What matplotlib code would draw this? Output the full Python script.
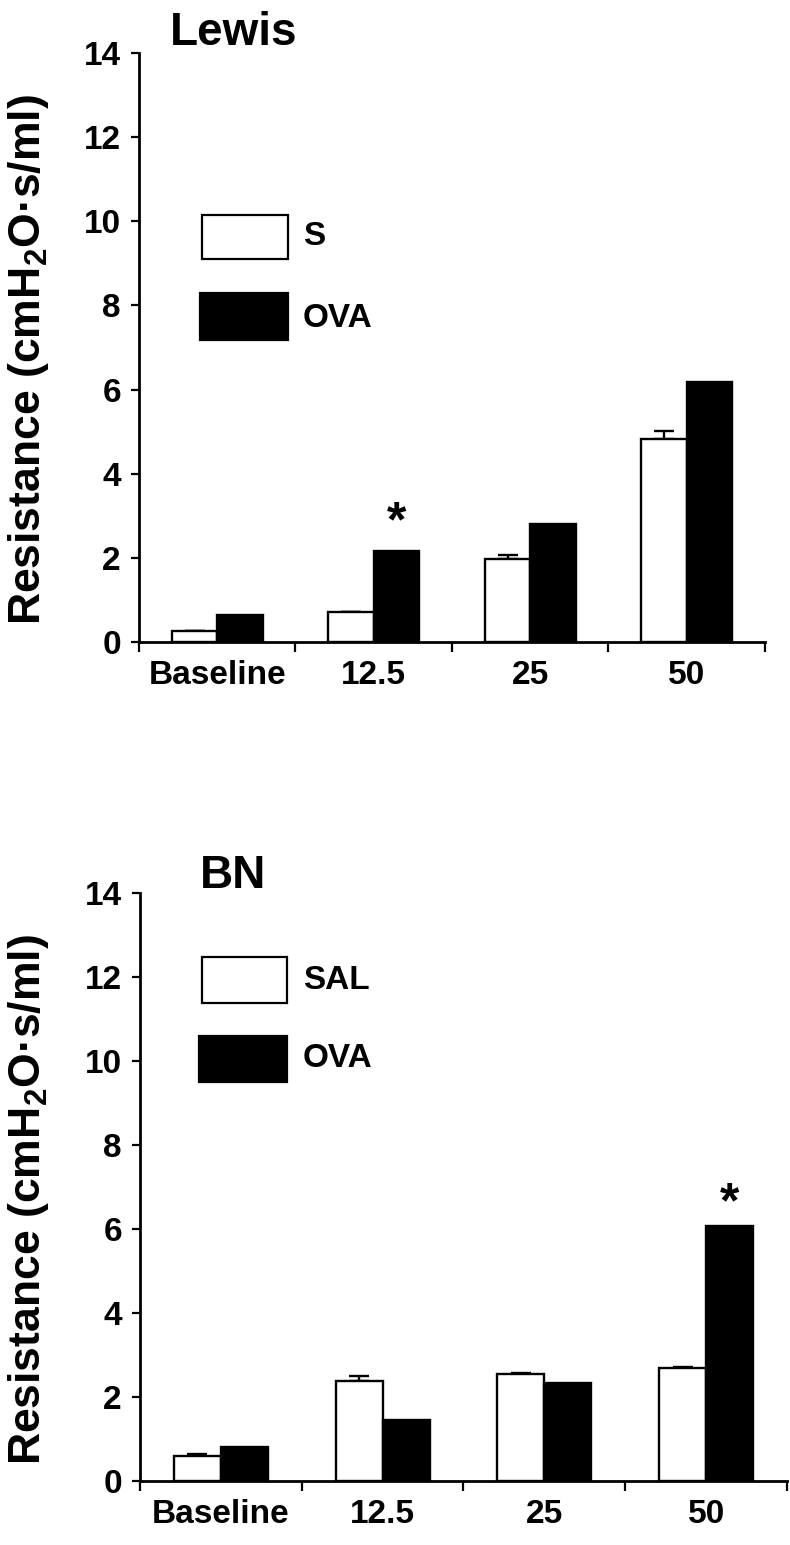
import matplotlib
matplotlib.use("Agg")
import matplotlib.pyplot as plt
import numpy as np
from matplotlib.patches import Rectangle

plt.rcParams["font.family"] = ["Liberation Sans", "DejaVu Sans"]
plt.rcParams["font.weight"] = "bold"
plt.rcParams["mathtext.fontset"] = "custom"
plt.rcParams["mathtext.bf"] = "Liberation Sans:bold"
plt.rcParams["mathtext.rm"] = "Liberation Sans:bold"
plt.rcParams["mathtext.default"] = "bf"

categories = ["Baseline", "12.5", "25", "50"]

# Lewis panel
lewis_s = [0.27, 0.71, 1.97, 4.83]
lewis_s_err = [0.0, 0.0, 0.10, 0.19]
lewis_ova = [0.64, 2.17, 2.80, 6.19]
lewis_star = (1, 2.82)  # category index, height

# BN panel
bn_sal = [0.60, 2.37, 2.54, 2.69]
bn_sal_err = [0.04, 0.13, 0.04, 0.02]
bn_ova = [0.82, 1.45, 2.34, 6.07]
bn_star = (3, 6.58)

YLABEL = "Resistance (cmH$_2$O·s/ml)"


def draw_panel(ax, s_vals, s_err, ova_vals, star, title, title_xy, leg_labels, leg_boxes, leg_text_x, leg_text_y):
    xs = np.arange(len(categories))
    w = 0.29
    ax.bar(xs - w / 2, s_vals, w, color="white", edgecolor="black", linewidth=1.7, zorder=3)
    ax.bar(xs + w / 2, ova_vals, w, color="black", edgecolor="black", linewidth=1.7, zorder=3)
    ax.errorbar(xs - w / 2, s_vals, yerr=[np.zeros(len(s_err)), s_err], fmt="none",
                ecolor="black", elinewidth=1.7, capsize=7, capthick=1.7, zorder=2)
    ax.text(star[0] + w / 2, star[1], "*", ha="center", va="center", fontsize=36)

    ax.set_xlim(-0.5, len(categories) - 0.5)
    ax.set_ylim(0, 14)
    ax.set_yticks(np.arange(0, 15, 2))
    ax.set_xticks(np.arange(-0.5, len(categories), 1.0))
    ax.set_xticklabels([])
    ax.set_xticks(xs, minor=True)
    ax.set_xticklabels(categories, minor=True)
    ax.tick_params(axis="x", which="major", direction="out", length=7, width=1.6)
    ax.tick_params(axis="x", which="minor", length=0, pad=13, labelsize=24)
    ax.tick_params(axis="y", direction="out", length=6, width=1.6, pad=7, labelsize=24)
    for side in ("top", "right"):
        ax.spines[side].set_visible(False)
    for side in ("left", "bottom"):
        ax.spines[side].set_linewidth(2)

    ax.text(title_xy[0], title_xy[1], title, transform=ax.transAxes, fontsize=33,
            ha="left", va="center", clip_on=False)

    for (bx, by, bw, bh), fc in zip(leg_boxes, ["white", "black"]):
        ax.add_patch(Rectangle((bx, by), bw, bh, transform=ax.transAxes, facecolor=fc,
                               edgecolor="black", linewidth=1.6, clip_on=False))
    for lab, ty in zip(leg_labels, leg_text_y):
        ax.text(leg_text_x, ty, lab, transform=ax.transAxes, fontsize=24, ha="left", va="center")


fig = plt.figure(figsize=(7.9, 15.45), dpi=100)
ax1 = fig.add_axes([0.1759, 0.5845, 0.7924, 0.3812])
ax2 = fig.add_axes([0.1772, 0.0414, 0.8190, 0.3806])

draw_panel(ax1, lewis_s, lewis_s_err, lewis_ova, lewis_star, "Lewis", (0.05, 1.034),
           ["S", "OVA"],
           [(0.1006, 0.650, 0.137, 0.0747), (0.0974, 0.5127, 0.1406, 0.0798)],
           0.262, [0.6876, 0.550])
draw_panel(ax2, bn_sal, bn_sal_err, bn_ova, bn_star, "BN", (0.093, 1.029),
           ["SAL", "OVA"],
           [(0.0958, 0.813, 0.131, 0.078), (0.0912, 0.6786, 0.136, 0.078)],
           0.252, [0.852, 0.719])

fig.text(29 / 790, 1 - 360 / 1545, YLABEL, rotation=90, ha="center", va="center", fontsize=32)
fig.text(29 / 790, 1 - 1200 / 1545, YLABEL, rotation=90, ha="center", va="center", fontsize=32)

fig.savefig("out.png", dpi=100)
